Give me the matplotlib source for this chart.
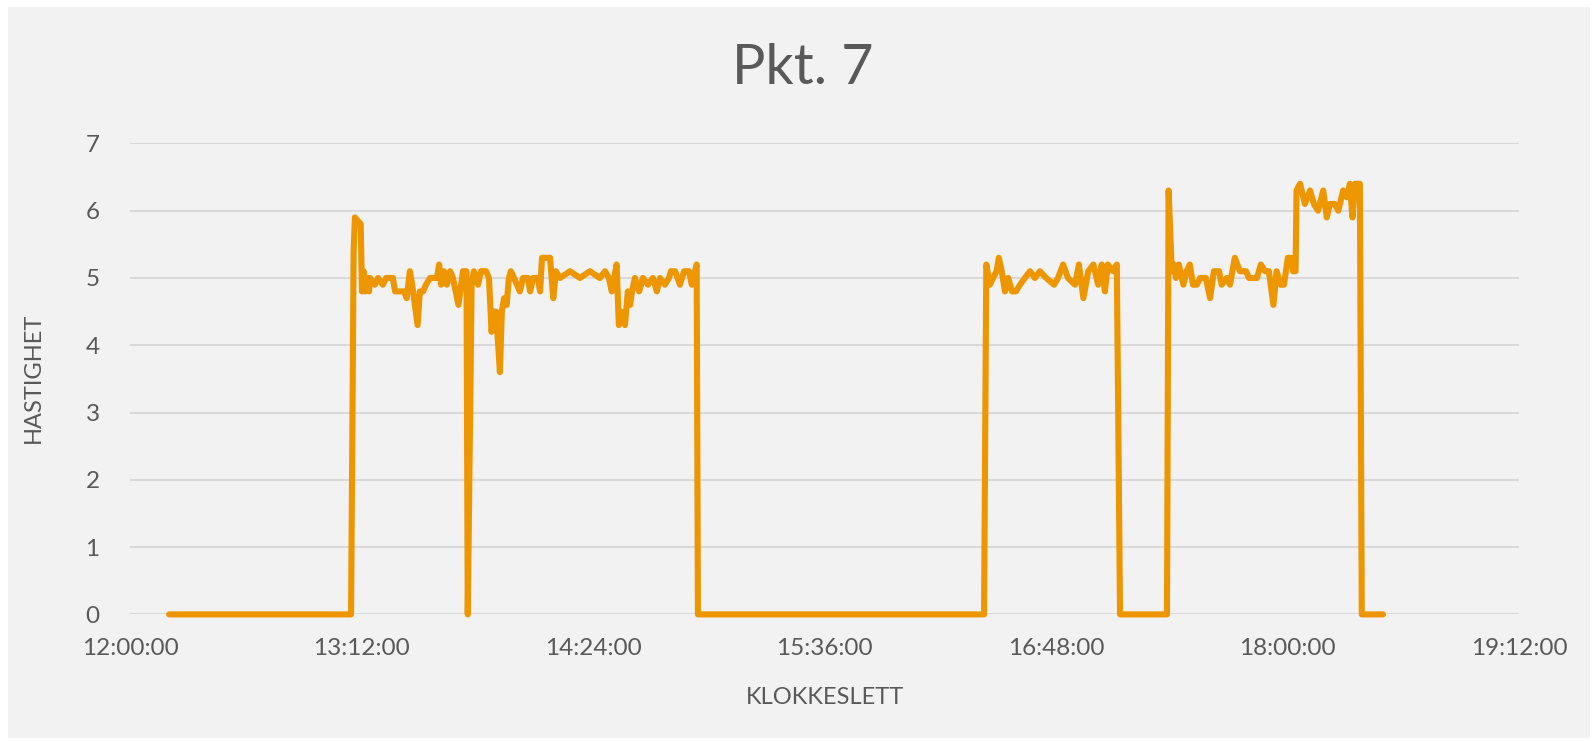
import matplotlib
matplotlib.use("Agg")
import matplotlib.pyplot as plt
from matplotlib.patches import Rectangle

# ---- data ----
# time in minutes after 12:00:00, speed (HASTIGHET)
minutes = [
    12.1, 68.7, 69.5, 69.9, 71.7, 72.1, 72.6, 73.0, 73.7, 74.3, 74.6,
    76.1, 77.1, 78.6, 79.6, 81.7, 82.4, 85.2, 86.0, 87.0, 87.7, 89.4,
    90.1, 91.1, 92.0, 93.3, 95.4, 96.1, 96.7, 97.6, 98.5, 99.5, 100.4,
    102.1, 103.5, 104.6, 105.0, 106.2, 106.9, 108.2, 109.1, 110.7, 111.6,
    112.4, 113.2, 113.8, 115.0, 115.6, 116.3, 117.1, 117.8, 118.4, 119.4,
    121.2, 122.2, 123.7, 124.4, 125.3, 126.8, 127.5, 128.1, 130.6, 131.6,
    132.4, 133.7, 136.8, 139.9, 143.0, 146.1, 147.7, 148.9, 149.8, 151.3,
    152.0, 152.7, 153.9, 154.8, 155.5, 156.1, 157.0, 158.3, 159.5, 161.1,
    162.6, 163.8, 164.8, 166.3, 167.6, 168.2, 169.5, 171.0, 172.3, 173.8,
    174.7, 176.2, 176.6,
    265.6, 266.3, 267.4, 268.4, 269.5, 270.2, 271.1, 272.1, 273.1, 274.3,
    275.5, 276.8, 278.3, 279.9, 281.4, 283.0, 284.9, 287.4, 288.6, 290.2,
    291.7, 293.9, 295.1, 296.5, 298.0, 299.6, 301.1, 302.2, 303.2, 304.1,
    305.7, 306.9, 307.9,
    322.5, 323.0, 324.0, 324.7, 325.3, 326.2, 327.6, 328.6, 329.6, 330.6,
    331.8, 332.8, 334.6, 335.9, 337.1, 338.7, 339.5, 341.1, 342.1, 343.6,
    345.2, 347.1, 348.0, 350.5, 351.7, 353.0, 354.2, 355.6, 356.6, 357.9,
    358.9, 360.1, 361.1, 361.7, 362.5, 362.8, 363.9, 365.4, 367.0, 368.2,
    369.5, 371.1, 372.2, 373.2, 374.7, 375.8, 377.3, 378.4, 379.4, 380.2,
    381.0, 382.5, 383.1, 389.7,
]
speed = [
    0, 0, 5.4, 5.9, 5.8, 4.8, 5.1, 4.8, 5.0, 4.8, 5.0,
    4.9, 5.0, 4.9, 5.0, 5.0, 4.8, 4.8, 4.7, 5.1, 4.9, 4.3,
    4.8, 4.8, 4.9, 5.0, 5.0, 5.2, 4.9, 5.1, 4.9, 5.1, 5.0,
    4.6, 5.1, 5.1, 0, 4.9, 5.1, 4.9, 5.1, 5.1, 5.0,
    4.2, 4.5, 4.5, 3.6, 4.5, 4.7, 4.6, 5.0, 5.1, 5.0,
    4.8, 5.0, 5.0, 4.8, 5.0, 5.0, 4.8, 5.3, 5.3, 4.7,
    5.1, 5.0, 5.1, 5.0, 5.1, 5.0, 5.1, 5.0, 4.8, 5.2,
    4.3, 4.5, 4.3, 4.8, 4.6, 4.8, 5.0, 4.8, 5.0, 4.9,
    5.0, 4.8, 5.0, 4.9, 5.0, 5.1, 5.1, 4.9, 5.1, 5.1,
    4.9, 5.2, 0,
    0, 5.2, 4.9, 5.0, 5.1, 5.3, 5.1, 4.8, 5.0, 4.8,
    4.8, 4.9, 5.0, 5.1, 5.0, 5.1, 5.0, 4.9, 5.0, 5.2,
    5.0, 4.9, 5.2, 4.7, 5.1, 5.2, 4.9, 5.2, 4.8, 5.2,
    5.1, 5.2, 0,
    0, 6.3, 5.1, 5.2, 5.0, 5.2, 4.9, 5.1, 5.2, 4.9,
    4.9, 5.0, 5.0, 4.7, 5.1, 5.1, 4.9, 5.0, 4.9, 5.3,
    5.1, 5.1, 5.0, 5.0, 5.2, 5.1, 5.1, 4.6, 5.1, 4.9,
    4.9, 5.3, 5.3, 5.1, 5.1, 6.3, 6.4, 6.1, 6.3, 6.1,
    6.0, 6.3, 5.9, 6.1, 6.1, 6.0, 6.3, 6.2, 6.4, 5.9,
    6.4, 6.4, 0, 0,
]
x_ticks = [0, 72, 144, 216, 288, 360, 432]
x_tick_labels = ["12:00:00", "13:12:00", "14:24:00", "15:36:00",
                 "16:48:00", "18:00:00", "19:12:00"]
y_ticks = [0, 1, 2, 3, 4, 5, 6, 7]
title = "Pkt. 7"
x_label = "KLOKKESLETT"
y_label = "HASTIGHET"

# ---- style ----
W, H = 1595, 741
bg = "#F2F2F2"
txt = "#595959"
line_col = "#EE9600"
font = "Lato"

fig = plt.figure(figsize=(W / 100, H / 100), dpi=100, facecolor="white")
fig.patches.append(Rectangle((8 / W, 1 - 738 / H), (1590 - 8) / W, (738 - 7) / H,
                             transform=fig.transFigure, facecolor=bg,
                             edgecolor="none", zorder=-10))

left, right = 130.2 / W, 1519 / W
bottom, top = 1 - 614.4 / H, 1 - 143.4 / H
ax = fig.add_axes([left, bottom, right - left, top - bottom])
ax.set_facecolor("none")

ax.plot(minutes, speed, color=line_col, lw=4.4, solid_joinstyle="round",
        solid_capstyle="round", clip_on=False, zorder=3)

ax.set_xlim(0, 432)
ax.set_ylim(0, 7)
ax.set_xticks(x_ticks)
ax.set_xticklabels(x_tick_labels)
ax.set_yticks(y_ticks)
for s in ax.spines.values():
    s.set_visible(False)
ax.tick_params(axis="both", length=0, colors=txt, labelsize=17.5)
ax.tick_params(axis="x", pad=17)
ax.tick_params(axis="y", pad=22)
for lab in ax.get_xticklabels() + ax.get_yticklabels():
    lab.set_fontfamily(font)
ax.yaxis.grid(True, color="#D9D9D9", lw=1.4, zorder=0)
ax.xaxis.grid(False)
ax.set_axisbelow(True)

fig.text(803 / W, 1 - 69 / H, title, ha="center", va="center",
         fontsize=40, color=txt, family=font)
fig.text(825 / W, 1 - 697 / H, x_label, ha="center", va="center",
         fontsize=17, color=txt, family=font)
fig.text(33 / W, 1 - 378 / H, y_label, ha="center", va="center",
         rotation=90, fontsize=17, color=txt, family=font)

fig.savefig("out.png", dpi=100, facecolor="white")
